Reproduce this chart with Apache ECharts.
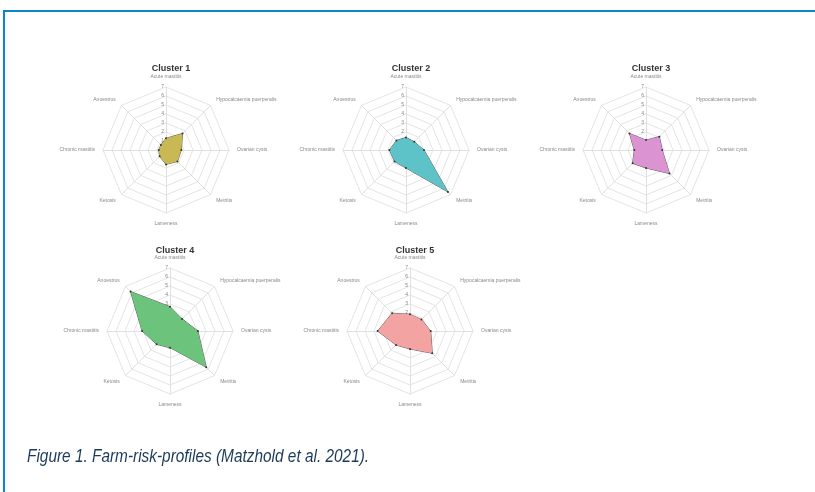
<!DOCTYPE html>
<html><head><meta charset="utf-8">
<script src="https://cdn.jsdelivr.net/npm/echarts@6/dist/echarts.min.js"></script>
<style>html,body{margin:0;padding:0;background:#fff}#c{width:815px;height:492px}</style>
</head><body><div id="c"></div>
<script>
// indicator order (counter-clockwise from top)
const axisNames = ['Acute mastitis','Anoestrus','Chronic mastitis','Ketosis','Lameness','Metritis','Ovarian cysts','Hypocalcaemia puerperalis'];
const axisMax = 7;
const clusterNames = ['Cluster 1','Cluster 2','Cluster 3','Cluster 4','Cluster 5'];
const cluster1 = [1.3, 0.8, 0.8, 1.0, 1.6, 1.8, 1.7, 2.6];
const cluster2 = [1.4, 1.5, 1.85, 1.8, 2.0, 6.6, 2.0, 1.3];
const cluster3 = [1.1, 2.6, 1.3, 2.1, 2.0, 3.7, 1.8, 2.1];
const cluster4 = [2.7, 6.2, 3.1, 2.1, 1.85, 5.7, 3.1, 1.9];
const cluster5 = [1.85, 2.8, 3.6, 2.2, 2.0, 3.5, 2.3, 1.8];
const clusterColors = ['#c9b955','#5ec3c8','#dc93d2','#6cc47c','#f2a3a2'];
const captionText = 'Figure 1. Farm-risk-profiles (Matzhold et al. 2021).';

const values = [cluster1, cluster2, cluster3, cluster4, cluster5];
const centers = [[166,150],[406,150],[646,150],[170,331],[410,331]];
const titleTops = [59, 59, 59, 241, 241];

const chart = echarts.init(document.getElementById('c'), null, {renderer:'canvas'});
const radars = centers.map(c => ({
  center: c, radius: 63, shape: 'polygon', startAngle: 90,
  min: 0, max: axisMax, splitNumber: axisMax,
  indicator: axisNames.map((n,i) => i === 0
    ? {name: n, min: 0, max: axisMax}
    : {name: n, min: 0, max: axisMax, axisLabel: {show: false}}),
  nameGap: 8,
  axisName: {color: '#8a8a8a', fontSize: 5, fontFamily: 'Liberation Sans'},
  splitLine: {lineStyle: {color: '#e4e4e4', width: 1}},
  splitArea: {show: false},
  axisLine: {lineStyle: {color: '#e0e0e0', width: 1}},
  axisTick: {show: false},
  axisLabel: {show: true, showMinLabel: false, fontSize: 5, color: '#888', margin: 2, fontFamily: 'Liberation Sans'}
}));
const titles = clusterNames.map((n,i) => ({
  text: n, left: centers[i][0], top: titleTops[i], textAlign: 'center',
  textStyle: {fontSize: 9, fontWeight: 'bold', color: '#333', fontFamily: 'Liberation Sans'}
}));

const series = values.map((v,i) => ({
  type: 'radar', radarIndex: i, name: clusterNames[i],
  symbol: 'circle', symbolSize: 2,
  itemStyle: {color: '#333'},
  lineStyle: {color: '#333', width: 0.8},
  areaStyle: {color: clusterColors[i], opacity: 1},
  data: [{value: v, name: clusterNames[i]}]
}));

chart.setOption({
  animation: false,
  title: titles,
  radar: radars,
  series: series,
  graphic: [{
    type: 'rect', shape: {x: 4, y: 11, width: 830, height: 500},
    style: {fill: null, stroke: '#0a86c9', lineWidth: 2}, silent: true
  }, {
    type: 'text', x: 27, y: 457, scaleX: 0.81, silent: true,
    style: {text: captionText, fontSize: 19, fontStyle: 'italic', fill: '#1b3b5c',
      fontFamily: 'Liberation Sans', verticalAlign: 'middle', align: 'left'}
  }]
});
</script></body></html>
